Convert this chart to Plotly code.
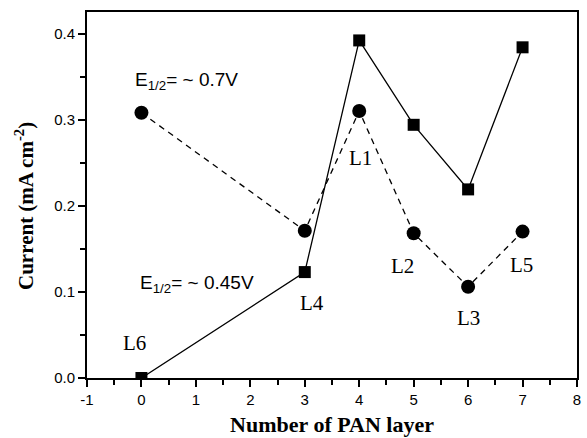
import plotly.graph_objects as go

layers = [0, 3, 4, 5, 6, 7]
current_045 = [0.0, 0.123, 0.392, 0.294, 0.219, 0.384]
current_07 = [0.308, 0.171, 0.310, 0.168, 0.106, 0.170]

label_text = ["L6", "L4", "L1", "L2", "L3", "L5"]
label_x = [-0.13, 3.13, 4.02, 4.80, 6.01, 6.98]
label_y = [0.041, 0.087, 0.255, 0.130, 0.070, 0.131]

e_text = ["E<sub>1/2</sub>= ~ 0.7V", "E<sub>1/2</sub>= ~ 0.45V"]
e_x = [-0.16, -0.06]
e_y = [0.345, 0.109]

xtick_vals = [-1, 0, 1, 2, 3, 4, 5, 6, 7, 8]
xtick_text = ["-1", "0", "1", "2", "3", "4", "5", "6", "7", "8"]
ytick_vals = [0.0, 0.1, 0.2, 0.3, 0.4]
ytick_text = ["0.0", "0.1", "0.2", "0.3", "0.4"]

fig = go.Figure()
fig.add_trace(go.Scatter(
    x=layers, y=current_045, mode="lines+markers",
    line=dict(color="black", width=1.3),
    marker=dict(symbol="square", size=12, color="black"),
    showlegend=False))
fig.add_trace(go.Scatter(
    x=layers, y=current_07, mode="lines+markers",
    line=dict(color="black", width=1.3, dash="6px,5px"),
    marker=dict(symbol="circle", size=14, color="black"),
    showlegend=False))

annotations = []
for t, x, y in zip(label_text, label_x, label_y):
    annotations.append(dict(x=x, y=y, text=t, showarrow=False,
                            xanchor="center", yanchor="middle",
                            font=dict(family="Liberation Serif", size=21, color="black")))
for t, x, y in zip(e_text, e_x, e_y):
    annotations.append(dict(x=x, y=y, text=t, showarrow=False,
                            xanchor="left", yanchor="middle",
                            font=dict(family="Liberation Sans", size=19, color="black")))
# y-axis title
annotations.append(dict(x=0, y=0.47, xref="paper", yref="paper", xshift=-62,
                        text="Current (mA cm<sup>-2</sup>)", showarrow=False, textangle=-90,
                        xanchor="center", yanchor="middle",
                        font=dict(family="Liberation Serif", size=21, color="black", weight="bold")))

axis_common = dict(showline=True, linecolor="black", linewidth=2, mirror=True,
                   showgrid=False, zeroline=False, ticks="outside",
                   ticklen=7, tickwidth=2, tickcolor="black", automargin=False,
                   tickfont=dict(family="Liberation Sans", size=15, color="black"))

fig.update_layout(
    width=587, height=438,
    margin=dict(l=87, r=10, t=12, b=60),
    paper_bgcolor="white", plot_bgcolor="white",
    annotations=annotations,
    xaxis=dict(range=[-1, 8], tickmode="array", tickvals=xtick_vals, ticktext=xtick_text,
               minor=dict(dtick=0.5, ticklen=5, tickwidth=2, tickcolor="black", ticks="outside"),
               title=dict(text="Number of PAN layer", standoff=10,
                          font=dict(family="Liberation Serif", size=22, color="black", weight="bold")),
               **axis_common),
    yaxis=dict(range=[0, 0.425], tickmode="array", tickvals=ytick_vals, ticktext=ytick_text,
               minor=dict(dtick=0.05, ticklen=5, tickwidth=2, tickcolor="black", ticks="outside"),
               **axis_common),
)

fig.write_html("out.html", config={"displayModeBar": False},
               post_script="document.body.style.margin='0';")
